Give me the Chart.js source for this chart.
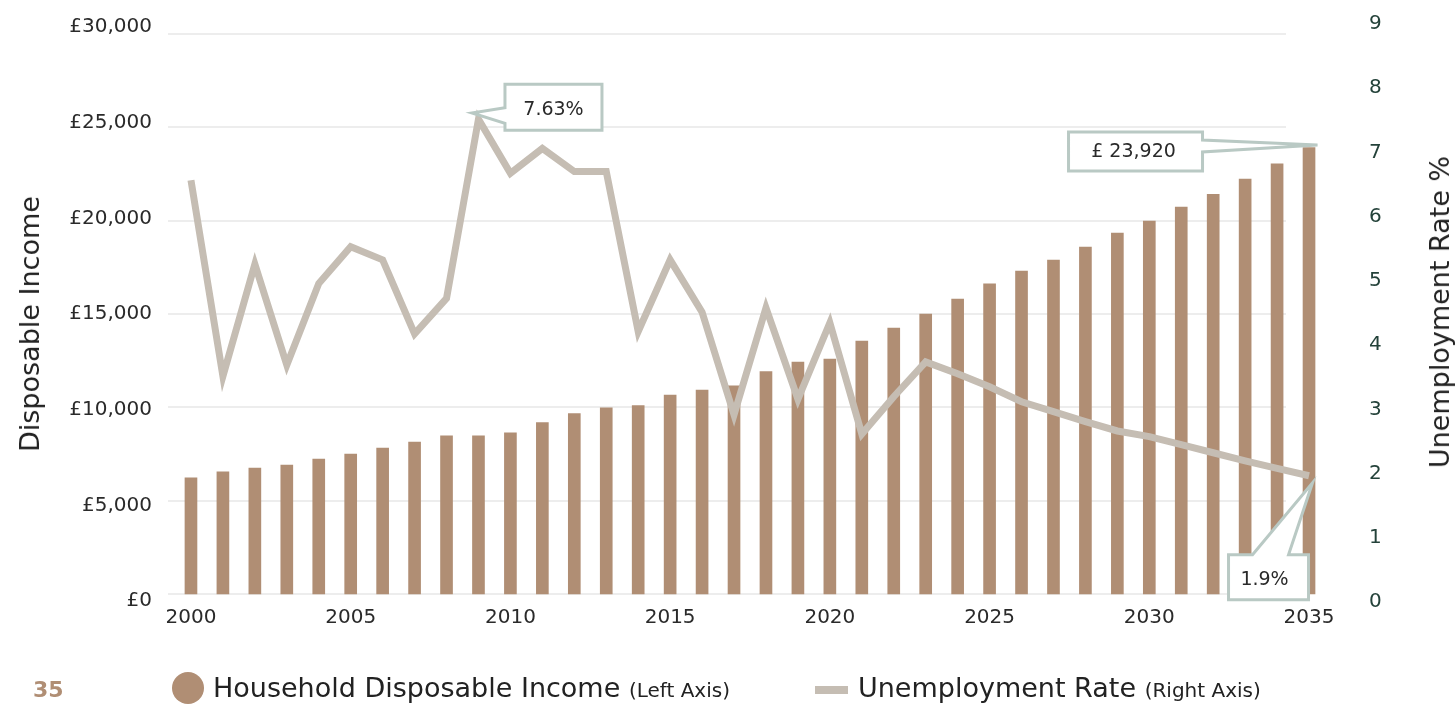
<!DOCTYPE html>
<html>
<head>
<meta charset="utf-8">
<script src="https://cdn.jsdelivr.net/npm/chart.js@4/dist/chart.umd.min.js"></script>
<style>
html,body{margin:0;padding:0;background:#fff;}
#wrap{position:relative;width:1455px;height:704px;overflow:hidden;font-family:"DejaVu Sans",sans-serif;}
#c{position:absolute;left:0;top:0;}
.abs{position:absolute;white-space:nowrap;}
#page{left:33px;top:679px;font-size:22px;line-height:22px;font-weight:bold;color:#b08e74;}
#dot{left:172px;top:672px;width:32px;height:32px;border-radius:50%;background:#b08e74;}
#dash{left:815px;top:686px;width:33px;height:8px;background:#c5bdb3;}
.legtext{top:674px;line-height:27px;font-size:27px;color:#222;}
.legtext small{font-size:20px;}
#t1{left:213px;}
#t2{left:858px;}
.vtitle{font-size:27px;line-height:32px;color:#222;transform:translate(-50%,-50%) rotate(-90deg);}
#ltitle{left:30px;top:324px;}
#rtitle{left:1440px;top:312px;}
</style>
</head>
<body>
<div id="wrap">
<canvas id="c" width="1455" height="704"></canvas>
<div id="ltitle" class="abs vtitle">Disposable Income</div>
<div id="rtitle" class="abs vtitle">Unemployment Rate %</div>
<div id="page" class="abs">35</div>
<div id="dot" class="abs"></div>
<div id="t1" class="abs legtext">Household Disposable Income <small>(Left Axis)</small></div>
<div id="dash" class="abs"></div>
<div id="t2" class="abs legtext">Unemployment Rate <small>(Right Axis)</small></div>
</div>
<script>
// ---- data ----
const years = ['2000','2001','2002','2003','2004','2005','2006','2007','2008','2009',
  '2010','2011','2012','2013','2014','2015','2016','2017','2018','2019',
  '2020','2021','2022','2023','2024','2025','2026','2027','2028','2029',
  '2030','2031','2032','2033','2034','2035'];
const xTickLabels = ['2000','2005','2010','2015','2020','2025','2030','2035'];
const disposableIncome = [6230,6540,6750,6910,7230,7500,7820,8140,8480,8480,
  8640,9180,9660,9980,10090,10660,10930,11150,11910,12430,
  12590,13550,14250,15000,15800,16620,17300,17890,18590,19340,
  19980,20730,21410,22230,23040,23920];
const unemploymentRate = [6.65,3.50,5.30,3.68,4.99,5.58,5.37,4.18,4.75,7.63,
  6.76,7.16,6.79,6.79,4.22,5.37,4.53,2.88,4.60,3.13,
  4.36,2.57,3.17,3.73,3.54,3.33,3.09,2.93,2.77,2.62,
  2.53,2.40,2.27,2.14,2.02,1.90];
const incomeTicks = [0,5000,10000,15000,20000,25000,30000];
const rateTicks = [0,1,2,3,4,5,6,7,8,9];

const FONT = '"DejaVu Sans", sans-serif';
const BORDER = '#b9c9c4';

const gridPlugin = {
  id:'customGrid',
  beforeDatasetsDraw(chart){
    const ctx = chart.ctx, a = chart.chartArea, y = chart.scales.yIncome;
    ctx.save();
    ctx.strokeStyle = '#ededed';
    ctx.lineWidth = 2;
    incomeTicks.forEach(v => {
      const py = Math.round(y.getPixelForValue(v));
      ctx.beginPath();
      ctx.moveTo(a.left - 7, py);
      ctx.lineTo(a.right - 39, py);
      ctx.stroke();
    });
    ctx.restore();
  }
};

function drawCallout(ctx, pts, text, tx, ty){
  ctx.save();
  ctx.beginPath();
  pts.forEach((p,i)=> i ? ctx.lineTo(p[0],p[1]) : ctx.moveTo(p[0],p[1]));
  ctx.closePath();
  ctx.fillStyle = '#fff';
  ctx.fill();
  ctx.lineJoin = 'miter';
  ctx.strokeStyle = BORDER;
  ctx.lineWidth = 3;
  ctx.stroke();
  ctx.fillStyle = '#2a2a2a';
  ctx.font = '19px ' + FONT;
  ctx.textAlign = 'center';
  ctx.textBaseline = 'middle';
  ctx.fillText(text, tx, ty);
  ctx.restore();
}

const calloutPlugin = {
  id:'callouts',
  afterDatasetsDraw(chart){
    const ctx = chart.ctx;
    const lineMeta = chart.getDatasetMeta(0);
    const barMeta = chart.getDatasetMeta(1);
    // peak unemployment
    const iPeak = unemploymentRate.indexOf(Math.max(...unemploymentRate));
    let p = lineMeta.data[iPeak];
    let x = p.x, y = p.y;
    let L = x + 26.5, R = x + 123.5, T = y - 35, B = y + 11;
    drawCallout(ctx, [[L,T],[R,T],[R,B],[L,B],[L,y+4],[x-6.5,y-6.3],[L,y-11.5]],
      unemploymentRate[iPeak].toFixed(2) + '%', (L+R)/2, y - 9);
    // last income bar
    const last = disposableIncome.length - 1;
    p = barMeta.data[last];
    x = p.x; y = p.y;
    L = x - 240.5; R = x - 106.5; T = y - 15.5; B = y + 23.5;
    drawCallout(ctx, [[L,T],[R,T],[R,y-7.5],[x+8.5,y-2.5],[R,y+4.5],[R,B],[L,B]],
      '£ ' + disposableIncome[last].toLocaleString('en-GB'), (L+R)/2 - 2, y + 4.5);
    // last unemployment
    p = lineMeta.data[last];
    x = p.x; y = p.y;
    L = x - 80.5; R = x - 0.5; T = y + 79; B = y + 124;
    drawCallout(ctx, [[L,T],[x-56.5,T],[x+3.5,y+7],[x-20.5,T],[R,T],[R,B],[L,B]],
      unemploymentRate[last].toFixed(1) + '%', (L+R)/2 - 4, y + 104);
  }
};

new Chart(document.getElementById('c'), {
  type:'bar',
  data:{
    labels: years,
    datasets:[
      {type:'line', label:'Unemployment Rate', data: unemploymentRate, yAxisID:'yRate',
       borderColor:'#c5bdb3', borderWidth:7, pointRadius:0, tension:0,
       borderJoinStyle:'miter', borderCapStyle:'butt', order:0},
      {type:'bar', label:'Household Disposable Income', data: disposableIncome, yAxisID:'yIncome',
       backgroundColor:'#b08e74', barThickness:12, order:1}
    ]
  },
  options:{
    responsive:false, animation:false, devicePixelRatio:1,
    layout:{padding:{top:24,left:0,right:0,bottom:0}},
    plugins:{legend:{display:false}, tooltip:{enabled:false}},
    scales:{
      x:{
        grid:{display:false, drawTicks:false}, border:{display:false},
        ticks:{autoSkip:false, maxRotation:0, padding:4, color:'#2a2a2a',
          font:{family:FONT, size:20},
          callback:(v,i)=> xTickLabels.includes(years[i]) ? years[i] : ''},
        afterFit:s=>{s.height = 102; s.paddingLeft = 0; s.paddingRight = 0;}
      },
      yIncome:{display:false, position:'left', min:-428.6, max:30535.7},
      yRate:{display:false, position:'right', min:-0.1286, max:9.1607},
      yIncomeLabels:{
        position:'left', min:-52.08, max:30156.25,
        grid:{display:false, drawTicks:false}, border:{display:false},
        afterBuildTicks:s=>{s.ticks = incomeTicks.map(v=>({value:v}));},
        ticks:{padding:23, color:'#2a2a2a', font:{family:FONT, size:20},
          callback:v=>'£' + Number(v).toLocaleString('en-GB')},
        afterFit:s=>{s.width = 175; s.paddingTop = 0; s.paddingBottom = 0;}
      },
      yRateLabels:{
        position:'right', min:0, max:9,
        grid:{display:false, drawTicks:false}, border:{display:false},
        afterBuildTicks:s=>{s.ticks = rateTicks.map(v=>({value:v}));},
        ticks:{padding:44, color:'#24423a', font:{family:FONT, size:20}},
        afterFit:s=>{s.width = 130; s.paddingTop = 0; s.paddingBottom = 0;}
      }
    }
  },
  plugins:[gridPlugin, calloutPlugin]
});
</script>
</body>
</html>
